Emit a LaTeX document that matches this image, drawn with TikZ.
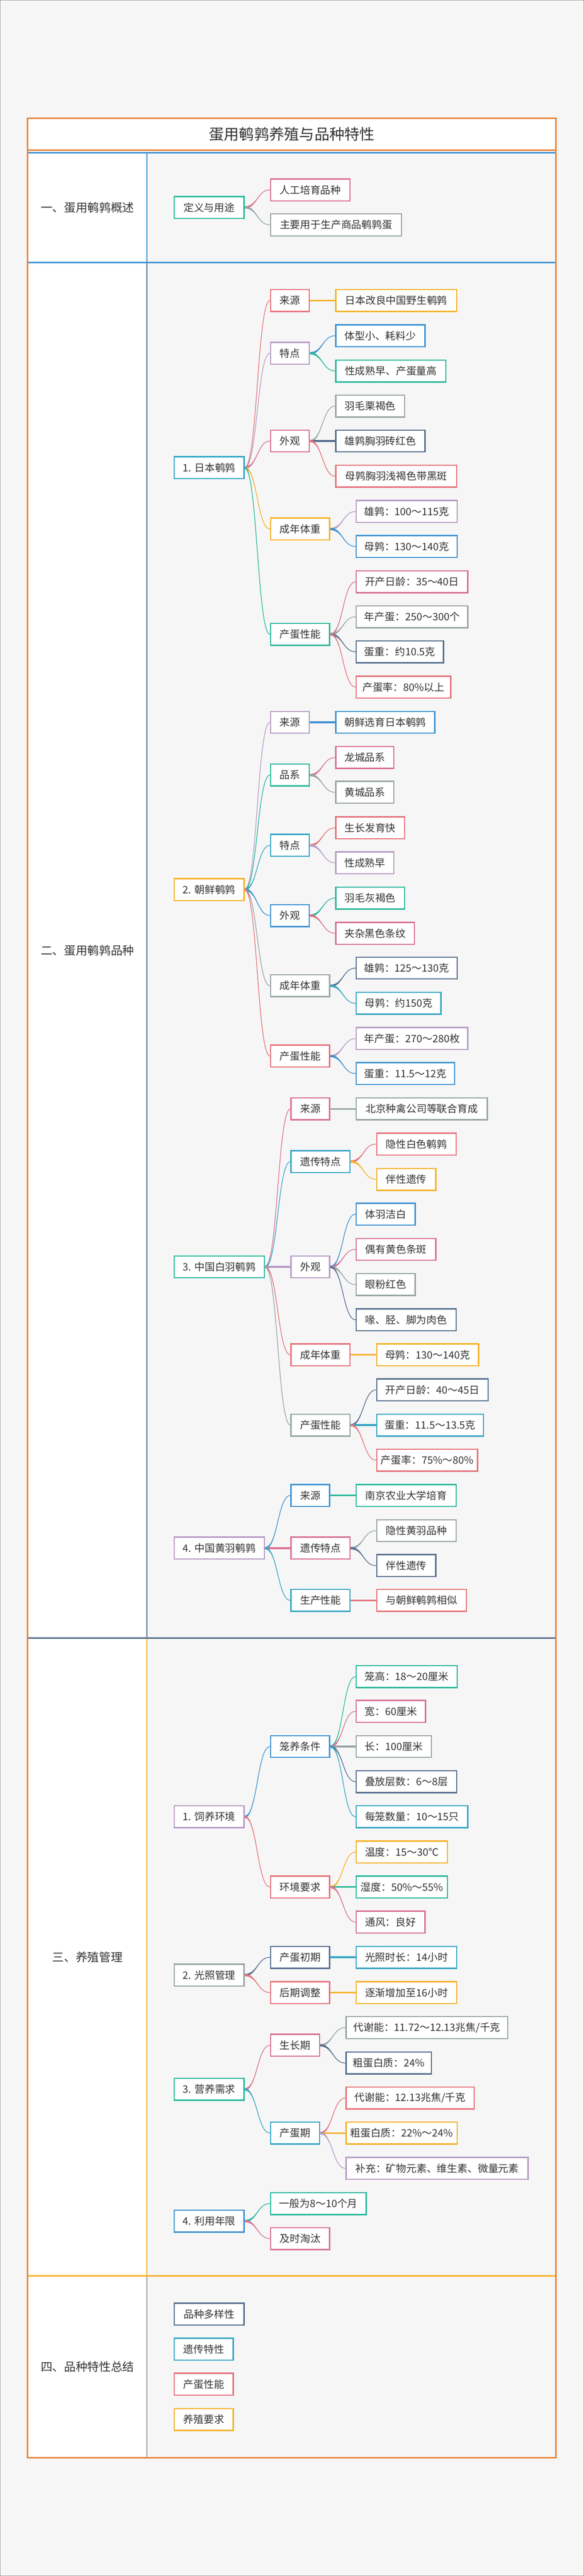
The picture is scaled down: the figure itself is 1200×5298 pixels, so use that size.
\documentclass[tikz,border=0pt]{standalone}
\usepackage{fontspec}
\setmainfont{Noto Sans CJK SC}
\usetikzlibrary{calc}
\definecolor{cteal}{HTML}{2CB89B}
\definecolor{cpink}{HTML}{D9728F}
\definecolor{cgray}{HTML}{98A4A5}
\definecolor{cred}{HTML}{E6737B}
\definecolor{corange}{HTML}{F7B12A}
\definecolor{cblue}{HTML}{3F92D2}
\definecolor{cpurple}{HTML}{B69BC4}
\definecolor{cslate}{HTML}{566F8E}
\definecolor{ctblue}{HTML}{37A6C4}
\definecolor{cframe}{HTML}{E9843C}
\definecolor{ctext}{HTML}{333333}
\definecolor{cbg}{HTML}{F6F6F6}
\pgfdeclarelayer{bg}
\pgfdeclarelayer{lines}
\pgfsetlayers{bg,lines,main}
\tikzset{
  bx/.style={draw=#1, line width=2.6pt, fill=white, rectangle, anchor=west,
    minimum height=45pt, inner sep=0pt, text=ctext,
    font=\fontsize{21pt}{25pt}\selectfont},
  seclabel/.style={text=ctext, font=\fontsize{24pt}{28pt}\selectfont, inner sep=0pt},
  secline/.style={line width=3pt}
}
% name, colour, left, right, centre y, text
\newcommand{\bxn}[6]{\node[bx=#2, minimum width={#4-#3-2.6}] (#1) at (#3,#5) {#6};}
% curved tapered connector: parent, child, colour
\newcommand{\cn}[3]{%
  \fill[#3] let \p1=(#1.east), \p2=(#2.west), \n1={(\x1+\x2)/2} in
    (\x1,\y1+2.3pt) .. controls (\n1,\y1+2.3pt) and (\n1,\y2) .. (\x2,\y2)
    .. controls (\n1,\y2) and (\n1,\y1-2.3pt) .. (\x1,\y1-2.3pt) -- cycle;
  \draw[#3, line width=1.4pt] let \p1=(#1.east), \p2=(#2.west), \n1={(\x1+\x2)/2} in
    (\x1,\y1) .. controls (\n1,\y1) and (\n1,\y2) .. (\x2,\y2);}
% straight connector
\newcommand{\sn}[3]{\draw[#3, line width=3.6pt] (#1.east) -- (#2.west);}
\begin{document}
\begin{tikzpicture}[x=1pt, y=-1pt]
\useasboundingbox (0,0) rectangle (1200,5298);
\begin{pgfonlayer}{bg}
  \fill[cbg] (0,0) rectangle (1200,5298);
  \draw[gray!70, line width=1pt] (0.5,0.5) rectangle (1199.5,5297.5);
  \fill[white] (57,243) rectangle (1143,309);
  \fill[white] (57,309) rectangle (302,5055);
  % section 1
  \draw[secline, cblue] (57,314) -- (1143,314);
  \draw[secline, cblue] (57,540) -- (1143,540);
  \draw[secline, cblue] (302,314) -- (302,540);
  % section 2
  \draw[secline, cslate] (302,541.5) -- (302,3369);
  \draw[secline, cslate] (57,3369) -- (1143,3369);
  % section 3
  \draw[secline, corange] (302,3370.5) -- (302,4681);
  \draw[secline, corange] (57,4681) -- (1143,4681);
  % section 4
  \draw[secline, cgray] (302,4682.5) -- (302,5055);
  % outer frame
  \draw[line width=3pt, cframe] (57,243) rectangle (1143,5055);
  \draw[line width=3.5pt, cframe] (57,309) -- (1143,309);
\end{pgfonlayer}

\node[text=ctext, font=\fontsize{31pt}{36pt}\selectfont, inner sep=0pt] (title) at (600,276) {蛋用鹌鹑养殖与品种特性};

\node[seclabel] (s1) at (180,427) {一、蛋用鹌鹑概述};
\node[seclabel] (s2) at (180,1955) {二、蛋用鹌鹑品种};
\node[seclabel] (s3) at (180,4025) {三、养殖管理};
\node[seclabel] (s4) at (180,4868) {四、品种特性总结};

% ---------- section 1
\bxn{d1}{cteal}{357}{503}{426.5}{定义与用途}
\bxn{d1a}{cpink}{555}{721}{390.5}{人工培育品种}
\bxn{d1b}{cgray}{555}{827}{462.5}{主要用于生产商品鹌鹑蛋}

% ---------- section 2 : 1
\bxn{b1}{ctblue}{357}{503}{962}{1. 日本鹌鹑}
\bxn{b1s}{cred}{555}{637}{618}{来源}
\bxn{b1s1}{corange}{689}{940}{618}{日本改良中国野生鹌鹑}
\bxn{b1t}{cpurple}{555}{637}{726.5}{特点}
\bxn{b1t1}{cblue}{689}{875}{690.5}{体型小、耗料少}
\bxn{b1t2}{cteal}{689}{918}{763}{性成熟早、产蛋量高}
\bxn{b1a}{cpink}{555}{637}{907}{外观}
\bxn{b1a1}{cgray}{689}{833}{835}{羽毛栗褐色}
\bxn{b1a2}{cslate}{689}{875}{907}{雄鹑胸羽砖红色}
\bxn{b1a3}{cred}{689}{940}{979.5}{母鹑胸羽浅褐色带黑斑}
\bxn{b1w}{corange}{555}{679}{1088}{成年体重}
\bxn{b1w1}{cpurple}{731}{941}{1052}{雄鹑：100～115克}
\bxn{b1w2}{cblue}{731}{941}{1124}{母鹑：130～140克}
\bxn{b1p}{cteal}{555}{679}{1304.5}{产蛋性能}
\bxn{b1p1}{cpink}{731}{963}{1196.5}{开产日龄：35～40日}
\bxn{b1p2}{cgray}{731}{963}{1268.5}{年产蛋：250～300个}
\bxn{b1p3}{cslate}{731}{913}{1340.5}{蛋重：约10.5克}
\bxn{b1p4}{cred}{731}{928}{1413}{产蛋率：80\%以上}

% ---------- section 2 : 2
\bxn{b2}{corange}{357}{503}{1829.5}{2. 朝鲜鹌鹑}
\bxn{b2s}{cpurple}{555}{637}{1485.5}{来源}
\bxn{b2s1}{cblue}{689}{895}{1485.5}{朝鲜选育日本鹌鹑}
\bxn{b2l}{cteal}{555}{637}{1594}{品系}
\bxn{b2l1}{cpink}{689}{811}{1558}{龙城品系}
\bxn{b2l2}{cgray}{689}{811}{1629.5}{黄城品系}
\bxn{b2t}{ctblue}{555}{637}{1738.5}{特点}
\bxn{b2t1}{cred}{689}{833}{1702.5}{生长发育快}
\bxn{b2t2}{cpurple}{689}{811}{1774.5}{性成熟早}
\bxn{b2a}{cblue}{555}{637}{1883}{外观}
\bxn{b2a1}{cteal}{689}{833}{1847}{羽毛灰褐色}
\bxn{b2a2}{cpink}{689}{853}{1919.5}{夹杂黑色条纹}
\bxn{b2w}{cgray}{555}{679}{2027.5}{成年体重}
\bxn{b2w1}{cslate}{731}{941}{1991}{雄鹑：125～130克}
\bxn{b2w2}{ctblue}{731}{908}{2063.5}{母鹑：约150克}
\bxn{b2p}{cred}{555}{679}{2172}{产蛋性能}
\bxn{b2p1}{cpurple}{731}{963}{2136}{年产蛋：270～280枚}
\bxn{b2p2}{cblue}{731}{936}{2208}{蛋重：11.5～12克}

% ---------- section 2 : 3
\bxn{b3}{cteal}{357}{545}{2605.5}{3. 中国白羽鹌鹑}
\bxn{b3s}{cpink}{597}{679}{2280.5}{来源}
\bxn{b3s1}{cgray}{731}{1003}{2280.5}{北京种禽公司等联合育成}
\bxn{b3g}{ctblue}{597}{721}{2389}{遗传特点}
\bxn{b3g1}{cred}{773}{939}{2353}{隐性白色鹌鹑}
\bxn{b3g2}{corange}{773}{897}{2425.5}{伴性遗传}
\bxn{b3a}{cpurple}{597}{679}{2605.5}{外观}
\bxn{b3a1}{cblue}{731}{855}{2497}{体羽洁白}
\bxn{b3a2}{cpink}{731}{897}{2569.5}{偶有黄色条斑}
\bxn{b3a3}{cgray}{731}{855}{2642}{眼粉红色}
\bxn{b3a4}{cslate}{731}{939}{2714.5}{喙、胫、脚为肉色}
\bxn{b3w}{cred}{597}{721}{2786.5}{成年体重}
\bxn{b3w1}{corange}{773}{985}{2786.5}{母鹑：130～140克}
\bxn{b3p}{cgray}{597}{721}{2931}{产蛋性能}
\bxn{b3p1}{cslate}{773}{1005}{2858.5}{开产日龄：40～45日}
\bxn{b3p2}{ctblue}{773}{995}{2931}{蛋重：11.5～13.5克}
\bxn{b3p3}{cred}{773}{983}{3003}{产蛋率：75\%～80\%}

% ---------- section 2 : 4
\bxn{b4}{cpurple}{357}{545}{3184}{4. 中国黄羽鹌鹑}
\bxn{b4s}{cblue}{597}{679}{3075.5}{来源}
\bxn{b4s1}{cteal}{731}{939}{3075.5}{南京农业大学培育}
\bxn{b4g}{cpink}{597}{721}{3184}{遗传特点}
\bxn{b4g1}{cgray}{773}{939}{3148}{隐性黄羽品种}
\bxn{b4g2}{cslate}{773}{897}{3220}{伴性遗传}
\bxn{b4p}{ctblue}{597}{721}{3291.5}{生产性能}
\bxn{b4p1}{cred}{773}{960}{3291.5}{与朝鲜鹌鹑相似}

% ---------- section 3
\bxn{c1}{cpurple}{357}{503}{3736.5}{1. 饲养环境}
\bxn{c1c}{cblue}{555}{679}{3592}{笼养条件}
\bxn{c1c1}{cteal}{731}{941}{3448}{笼高：18～20厘米}
\bxn{c1c2}{cpink}{731}{876}{3519.5}{宽：60厘米}
\bxn{c1c3}{cgray}{731}{888}{3592}{长：100厘米}
\bxn{c1c4}{cslate}{731}{940}{3664.5}{叠放层数：6～8层}
\bxn{c1c5}{ctblue}{731}{963}{3736.5}{每笼数量：10～15只}
\bxn{c1e}{cred}{555}{679}{3881}{环境要求}
\bxn{c1e1}{corange}{731}{921}{3809}{温度：15～30℃}
\bxn{c1e2}{cteal}{731}{921}{3881}{湿度：50\%～55\%}
\bxn{c1e3}{cpink}{731}{875}{3953}{通风：良好}

\bxn{c2}{cgray}{357}{503}{4062}{2. 光照管理}
\bxn{c2a}{cslate}{555}{679}{4025.5}{产蛋初期}
\bxn{c2a1}{ctblue}{731}{940}{4025.5}{光照时长：14小时}
\bxn{c2b}{cred}{555}{679}{4098}{后期调整}
\bxn{c2b1}{corange}{731}{940}{4098}{逐渐增加至16小时}

\bxn{c3}{cteal}{357}{503}{4297}{3. 营养需求}
\bxn{c3g}{cpink}{555}{658}{4206.5}{生长期}
\bxn{c3g1}{cgray}{710}{1045}{4170}{代谢能：11.72～12.13兆焦/千克}
\bxn{c3g2}{cslate}{710}{888}{4243}{粗蛋白质：24\%}
\bxn{c3p}{ctblue}{555}{658}{4387}{产蛋期}
\bxn{c3p1}{cred}{710}{976}{4315}{代谢能：12.13兆焦/千克}
\bxn{c3p2}{corange}{710}{941}{4387}{粗蛋白质：22\%～24\%}
\bxn{c3p3}{cpurple}{710}{1087}{4459.5}{补充：矿物元素、维生素、微量元素}

\bxn{c4}{cblue}{357}{503}{4568}{4. 利用年限}
\bxn{c4a}{cteal}{555}{754}{4532}{一般为8～10个月}
\bxn{c4b}{cpink}{555}{679}{4604}{及时淘汰}

% ---------- section 4
\bxn{e1}{cslate}{357}{503}{4759.5}{品种多样性}
\bxn{e2}{ctblue}{357}{481}{4831.5}{遗传特性}
\bxn{e3}{cred}{357}{481}{4903.5}{产蛋性能}
\bxn{e4}{corange}{357}{481}{4976}{养殖要求}

\begin{pgfonlayer}{lines}
\cn{d1}{d1a}{cpink}\cn{d1}{d1b}{cgray}

\cn{b1}{b1s}{cred}\sn{b1s}{b1s1}{corange}
\cn{b1}{b1t}{cpurple}\cn{b1t}{b1t1}{cblue}\cn{b1t}{b1t2}{cteal}
\cn{b1}{b1a}{cpink}\cn{b1a}{b1a1}{cgray}\sn{b1a}{b1a2}{cslate}\cn{b1a}{b1a3}{cred}
\cn{b1}{b1w}{corange}\cn{b1w}{b1w1}{cpurple}\cn{b1w}{b1w2}{cblue}
\cn{b1}{b1p}{cteal}\cn{b1p}{b1p1}{cpink}\cn{b1p}{b1p2}{cgray}\cn{b1p}{b1p3}{cslate}\cn{b1p}{b1p4}{cred}

\cn{b2}{b2s}{cpurple}\sn{b2s}{b2s1}{cblue}
\cn{b2}{b2l}{cteal}\cn{b2l}{b2l1}{cpink}\cn{b2l}{b2l2}{cgray}
\cn{b2}{b2t}{ctblue}\cn{b2t}{b2t1}{cred}\cn{b2t}{b2t2}{cpurple}
\cn{b2}{b2a}{cblue}\cn{b2a}{b2a1}{cteal}\cn{b2a}{b2a2}{cpink}
\cn{b2}{b2w}{cgray}\cn{b2w}{b2w1}{cslate}\cn{b2w}{b2w2}{ctblue}
\cn{b2}{b2p}{cred}\cn{b2p}{b2p1}{cpurple}\cn{b2p}{b2p2}{cblue}

\cn{b3}{b3s}{cpink}\sn{b3s}{b3s1}{cgray}
\cn{b3}{b3g}{ctblue}\cn{b3g}{b3g1}{cred}\cn{b3g}{b3g2}{corange}
\sn{b3}{b3a}{cpurple}\cn{b3a}{b3a1}{cblue}\cn{b3a}{b3a2}{cpink}\cn{b3a}{b3a3}{cgray}\cn{b3a}{b3a4}{cslate}
\cn{b3}{b3w}{cred}\sn{b3w}{b3w1}{corange}
\cn{b3}{b3p}{cgray}\cn{b3p}{b3p1}{cslate}\sn{b3p}{b3p2}{ctblue}\cn{b3p}{b3p3}{cred}

\cn{b4}{b4s}{cblue}\sn{b4s}{b4s1}{cteal}
\sn{b4}{b4g}{cpink}\cn{b4g}{b4g1}{cgray}\cn{b4g}{b4g2}{cslate}
\cn{b4}{b4p}{ctblue}\sn{b4p}{b4p1}{cred}

\cn{c1}{c1c}{cblue}\cn{c1c}{c1c1}{cteal}\cn{c1c}{c1c2}{cpink}\sn{c1c}{c1c3}{cgray}\cn{c1c}{c1c4}{cslate}\cn{c1c}{c1c5}{ctblue}
\cn{c1}{c1e}{cred}\cn{c1e}{c1e1}{corange}\sn{c1e}{c1e2}{cteal}\cn{c1e}{c1e3}{cpink}

\cn{c2}{c2a}{cslate}\sn{c2a}{c2a1}{ctblue}
\cn{c2}{c2b}{cred}\sn{c2b}{c2b1}{corange}

\cn{c3}{c3g}{cpink}\cn{c3g}{c3g1}{cgray}\cn{c3g}{c3g2}{cslate}
\cn{c3}{c3p}{ctblue}\cn{c3p}{c3p1}{cred}\sn{c3p}{c3p2}{corange}\cn{c3p}{c3p3}{cpurple}

\cn{c4}{c4a}{cteal}\cn{c4}{c4b}{cpink}
\end{pgfonlayer}
\end{tikzpicture}
\end{document}
